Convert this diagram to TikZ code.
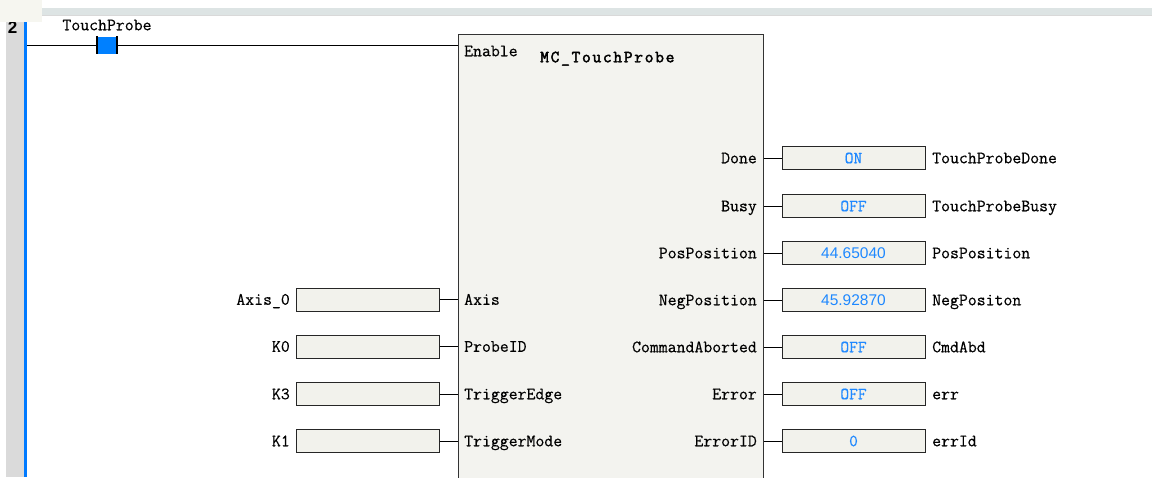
\documentclass[tikz,border=0pt]{standalone}
\usepackage{fontspec}
\newfontfamily\mono[FakeBold=0.35]{Latin Modern Mono}
\newfontfamily\monob[LetterSpace=10,FakeBold=2.5]{Latin Modern Mono}
\newfontfamily\sansv{Liberation Sans}
\definecolor{valblue}{RGB}{30,136,255}
\definecolor{boxfill}{RGB}{242,242,236}
\definecolor{blkfill}{RGB}{243,243,239}
\definecolor{gutter}{RGB}{218,218,218}
\definecolor{railblue}{RGB}{0,122,255}
\definecolor{topbar}{RGB}{221,228,228}
\definecolor{corner}{RGB}{246,246,240}
\definecolor{contactblue}{RGB}{0,128,255}
\tikzset{
  txt/.style={font=\mono\fontsize{17.3}{17.3}\selectfont, inner sep=0pt, text height=10.5pt, text depth=0pt},
  valtxt/.style={inner sep=0pt, text height=10.5pt, text depth=0pt, text=valblue},
  varbox/.style={draw=black!85, line width=1pt, fill=boxfill, minimum width=143pt, minimum height=23pt, inner sep=0pt},
  wire/.style={line width=1pt, draw=black},
}
\begin{document}
\begin{tikzpicture}[x=1pt,y=-1pt]
\useasboundingbox (0,0) rectangle (1154,477);
% background pieces
\fill[gutter] (6,0) rectangle (24,477);
\fill[railblue] (24,0) rectangle (27,477);
\node[font=\sansv\bfseries\fontsize{17}{17}\selectfont, inner sep=0pt] (rungno) at (12.5,28) {2};
\fill[corner] (0,0) rectangle (42,22);
\fill[topbar] (42,8) rectangle (1152,15);
\draw[black!15] (42,15) -- (1152,15);
% block
\node[draw=black!80, line width=1pt, fill=blkfill, anchor=north west, minimum width=305pt, minimum height=460pt, inner sep=0pt] (blk) at (458,34) {};
\node[txt, anchor=west] (en) at (464,51) {Enable};
\node[anchor=west, inner sep=0pt, text height=10.5pt, text depth=0pt, font=\monob\fontsize{17}{17}\selectfont] (title) at (540,57) {MC\_TouchProbe};
% rung and contact
\coordinate (railpt) at (27,45);
\node[fill=contactblue, minimum width=19pt, minimum height=17pt, inner sep=0pt] (contact) at (107,45) {};
\draw[line width=2pt] (contact.north west) -- (contact.south west) (contact.north east) -- (contact.south east);
\node[txt] (tpl) at (107,25) {TouchProbe};
\draw[wire] (railpt) -- (contact.west);
\draw[wire] (contact.east) -- (blk.west |- contact.east);
% outputs
\foreach \n/\pin/\val/\var/\y/\f/\s in {
  o1/Done/ON/TouchProbeDone/158/\mono/17,
  o2/Busy/OFF/TouchProbeBusy/206/\mono/17,
  o3/PosPosition/44.65040/PosPosition/253/\sansv/15.5,
  o4/NegPosition/45.92870/NegPositon/300/\sansv/15.5,
  o5/CommandAborted/OFF/CmdAbd/347/\mono/17,
  o6/Error/OFF/err/394/\mono/17,
  o7/ErrorID/0/errId/441/\mono/17}{
  \node[varbox] (\n) at (853.5,\y) {};
  \node[valtxt, font=\f\fontsize{\s}{\s}\selectfont] (\n v) at (\n) {\val};
  \node[txt, anchor=east] (\n p) at (757,\y) {\pin};
  \node[txt, anchor=west] (\n n) at (932,\y) {\var};
  \draw[wire] (blk.east |- \n.west) -- (\n.west);
}
% inputs
\foreach \n/\pin/\var/\y in {
  i1/Axis/Axis\_0/299.5,
  i2/ProbeID/K0/346.5,
  i3/TriggerEdge/K3/394,
  i4/TriggerMode/K1/441}{
  \node[varbox] (\n) at (367.5,\y) {};
  \node[txt, anchor=west] (\n p) at (464,\y) {\pin};
  \node[txt, anchor=east] (\n n) at (290,\y) {\var};
  \draw[wire] (\n.east) -- (blk.west |- \n.east);
}
\end{tikzpicture}
\end{document}
